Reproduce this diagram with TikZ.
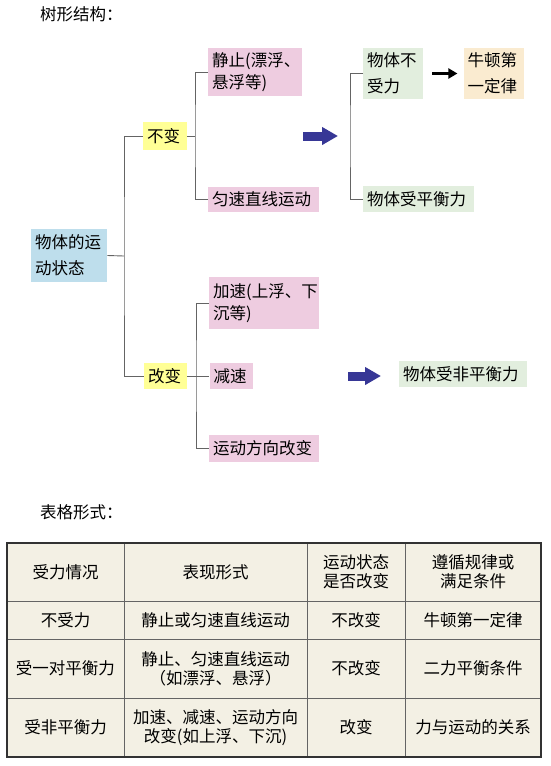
\documentclass[tikz,border=0pt]{standalone}
\usepackage{fontspec}
\setmainfont{Noto Sans CJK SC}
\usetikzlibrary{arrows.meta, positioning}

\definecolor{boxpink}{RGB}{238,204,224}
\definecolor{boxyellow}{RGB}{255,255,150}
\definecolor{boxblue}{RGB}{190,222,236}
\definecolor{boxgreen}{RGB}{226,238,222}
\definecolor{boxbeige}{RGB}{250,235,208}
\definecolor{arrowblue}{RGB}{55,55,150}
\definecolor{linegray}{RGB}{100,100,100}
\definecolor{tablebg}{RGB}{243,240,228}
\definecolor{framegray}{RGB}{50,50,50}

\newcommand{\tfont}{\fontsize{16.5}{22}\selectfont}
\newcommand{\widefont}{\fontsize{16.5}{26}\selectfont}
\newcommand{\cellfont}{\fontsize{16.5}{19}\selectfont}

\begin{document}
\begin{tikzpicture}[
  x=1pt, y=-1pt,
  node distance=22pt,
  box/.style={anchor=west, inner xsep=4pt, inner ysep=0pt, align=left,
    font=\tfont},
  pinkbox/.style={box, fill=boxpink},
  yellowbox/.style={box, fill=boxyellow},
  bluebox/.style={box, fill=boxblue},
  greenbox/.style={box, fill=boxgreen},
  beigebox/.style={box, fill=boxbeige},
  heading/.style={anchor=west, inner sep=0pt, font=\tfont},
  branch/.style={draw=linegray, line width=0.9pt},
  bigarrow/.style={draw=arrowblue, line width=9pt,
    -{Triangle[length=16pt, width=17pt]}},
  cell/.style={align=center, font=\cellfont},
  tableline/.style={draw=linegray, line width=0.7pt},
  tableframe/.style={draw=framegray, line width=1.6pt}
]
  \useasboundingbox (0,0) rectangle (550,766);

  % tree
  \node[heading] (treetitle) at (40,14) {树形结构：};

  \node[bluebox, font=\widefont, text width=68pt, minimum height=53pt]
    (root) at (31,255.5) {物体的运\\动状态};
  \node[yellowbox, text width=36pt, minimum height=28pt] (bubian) at (143,136) {不变};
  \node[yellowbox, text width=35pt, minimum height=26pt] (gaibian) at (144,376) {改变};

  \node[pinkbox, text width=86pt, minimum height=48pt] (jingzhi) at (208,72)
    {静止(漂浮、\\悬浮等)};
  \node[pinkbox, text width=103pt, minimum height=25pt] (yunsu) at (208,199.5)
    {匀速直线运动};
  \node[pinkbox, text width=102pt, minimum height=52pt] (jiasu) at (209,303)
    {加速(上浮、下\\沉等)};
  \node[pinkbox, text width=35pt, minimum height=26pt, right=of gaibian] (jiansu)
    {减速};
  \node[pinkbox, text width=102pt, minimum height=27pt] (fangxiang) at (209,448.5)
    {运动方向改变};

  \node[greenbox, font=\widefont, text width=52pt, minimum height=51pt]
    (notforce) at (363,73.5) {物体不\\受力};
  \node[beigebox, font=\widefont, text width=52pt, minimum height=51pt,
    right=40pt of notforce] (newton) {牛顿第\\一定律};
  \node[greenbox, text width=103pt, minimum height=26pt] (balance) at (363,199)
    {物体受平衡力};
  \node[greenbox, text width=120pt, minimum height=26pt] (unbalance) at (399,374)
    {物体受非平衡力};

  \coordinate (trunk) at (124,256);
  \draw[branch] (root.east) -- (trunk);
  \draw[branch] (bubian.west) -| (trunk) |- (gaibian.west);

  \coordinate (fork1) at (195,136);
  \draw[branch] (bubian.east) -- (fork1);
  \draw[branch] (jingzhi.west) -| (fork1) |- (yunsu.west);

  \coordinate (fork2) at (196,376);
  \draw[branch] (gaibian.east) -- (jiansu.west);
  \draw[branch] (jiasu.west) -| (fork2) |- (fangxiang.west);

  \coordinate (fork3) at (350,136);
  \draw[branch] (notforce.west) -| (fork3) |- (balance.west);

  \coordinate (keep1) at (303,136);
  \coordinate (keep2) at (338,136);
  \draw[bigarrow] (keep1) -- (keep2);
  \coordinate (change1) at (348,376);
  \coordinate (change2) at (381,376);
  \draw[bigarrow] (change1) -- (change2);

  \draw[-{Triangle[length=9pt, width=10pt]}, line width=2.2pt,
    shorten <=9pt, shorten >=6pt] (notforce.east) -- (newton.west);

  % table
  \node[heading] (tabletitle) at (40,512) {表格形式：};

  \fill[tablebg] (7,543) rectangle (541,757);
  \draw[tableline] (124,543) -- (124,757);
  \draw[tableline] (307,543) -- (307,757);
  \draw[tableline] (405,543) -- (405,757);
  \draw[tableline] (7,601) -- (541,601);
  \draw[tableline] (7,639) -- (541,639);
  \draw[tableline] (7,698) -- (541,698);
  \draw[tableframe] (7,543) rectangle (541,757);

  \node[cell] (h1) at (65.5,572) {受力情况};
  \node[cell] (h2) at (215.5,572) {表现形式};
  \node[cell] (h3) at (356,572) {运动状态\\是否改变};
  \node[cell] (h4) at (473,572) {遵循规律或\\满足条件};

  \node[cell] (r1c1) at (65.5,620) {不受力};
  \node[cell] (r1c2) at (215.5,620) {静止或匀速直线运动};
  \node[cell] (r1c3) at (356,620) {不改变};
  \node[cell] (r1c4) at (473,620) {牛顿第一定律};

  \node[cell] (r2c1) at (65.5,668.5) {受一对平衡力};
  \node[cell] (r2c2) at (215.5,668.5) {静止、匀速直线运动\\（如漂浮、悬浮）};
  \node[cell] (r2c3) at (356,668.5) {不改变};
  \node[cell] (r2c4) at (473,668.5) {二力平衡条件};

  \node[cell] (r3c1) at (65.5,727.5) {受非平衡力};
  \node[cell] (r3c2) at (215.5,727.5) {加速、减速、运动方向\\改变(如上浮、下沉)};
  \node[cell] (r3c3) at (356,727.5) {改变};
  \node[cell] (r3c4) at (473,727.5) {力与运动的关系};
\end{tikzpicture}
\end{document}
